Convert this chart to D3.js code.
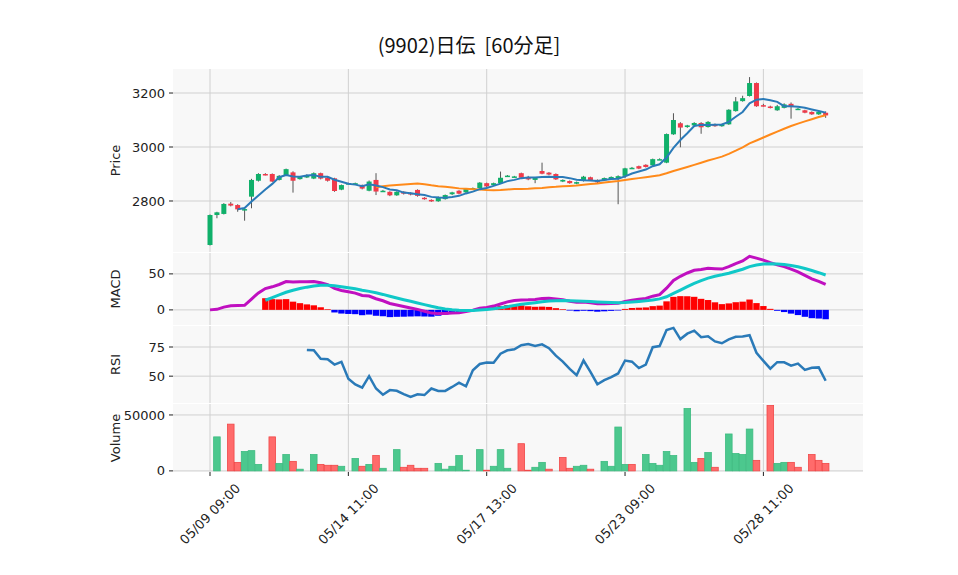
<!DOCTYPE html>
<html><head><meta charset="utf-8">
<script src="https://cdn.jsdelivr.net/npm/d3@7"></script>
<style>body{margin:0;background:#fff;font-family:"DejaVu Sans",sans-serif}</style>
</head><body><svg id="chart" width="958" height="575"></svg>
<script>
const tickLabels = ["05/09 09:00", "05/14 11:00", "05/17 13:00", "05/23 09:00", "05/28 11:00"];
const tickIndex = [0, 20, 40, 60, 80];

const opens = [2637,2748,2752,2790,2785,2765,2816,2875,2900,2900,2878,2896,2906,2881,2887,2883,2903,2886,2884,2842,2866,2866,2859,2838,2878,2838,2834,2821,2834,2830,2841,2812,2804,2799,2807,2825,2838,2832,2848,2848,2866,2859,2866,2894,2891,2903,2886,2878,2911,2905,2900,2872,2874,2864,2874,2888,2878,2877,2881,2884,2893,2923,2929,2934,2932,2955,2942,3047,3088,3074,3080,3089,3074,3084,3077,3084,3133,3170,3189,3237,3155,3150,3136,3145,3160,3142,3136,3130,3121,3127];
const closes = [2748,2758,2789,2783,2769,2770,2878,2900,2897,2872,2893,2918,2875,2890,2896,2903,2883,2875,2837,2859,2866,2866,2846,2872,2835,2838,2821,2834,2827,2824,2819,2807,2799,2815,2822,2832,2827,2844,2848,2868,2854,2866,2886,2894,2891,2886,2880,2886,2901,2898,2880,2878,2866,2870,2890,2876,2869,2885,2889,2892,2921,2923,2920,2926,2955,2955,3048,3100,3072,3080,3089,3073,3093,3077,3084,3138,3169,3181,3237,3151,3152,3145,3151,3158,3148,3142,3127,3121,3130,3117];
const highs = [2750,2760,2792,2796,2788,2772,2882,2903,2903,2902,2896,2920,2910,2892,2899,2906,2905,2889,2886,2861,2868,2868,2861,2876,2903,2841,2836,2836,2836,2832,2843,2814,2806,2817,2824,2834,2840,2846,2850,2870,2868,2868,2909,2896,2893,2905,2893,2888,2942,2907,2902,2880,2876,2872,2893,2890,2880,2887,2891,2895,2923,2926,2931,2936,2957,2958,3050,3125,3092,3082,3092,3092,3096,3087,3086,3140,3185,3190,3259,3239,3160,3153,3156,3162,3165,3145,3138,3132,3133,3132];
const lows = [2635,2736,2750,2780,2760,2727,2773,2872,2895,2870,2876,2894,2831,2879,2885,2881,2880,2872,2834,2840,2864,2864,2843,2836,2822,2836,2818,2819,2824,2821,2816,2805,2797,2797,2805,2822,2825,2830,2846,2846,2850,2857,2864,2892,2889,2883,2877,2866,2899,2895,2878,2870,2864,2862,2872,2874,2866,2875,2879,2788,2885,2920,2918,2924,2930,2953,2940,3045,2999,3071,3078,3049,3072,3075,3075,3082,3131,3168,3187,3149,3150,3143,3134,3143,3105,3140,3125,3119,3119,3108];
const volumes = [0,30400,0,41800,7600,17300,18100,5800,0,30400,6700,14600,8500,1500,0,14600,5800,5000,5000,4100,0,11100,4100,5800,13700,2300,0,19000,3200,5000,2300,2300,0,6700,1500,4100,13700,600,0,19000,600,4100,19000,2300,0,24300,600,3200,7600,1500,0,11900,2300,4100,5000,1500,0,8500,4100,39200,5800,5800,0,14600,6700,5000,17300,13700,0,55800,7600,11100,16400,3200,0,33000,15500,14600,37400,9400,0,58500,6700,7600,7600,3200,0,14600,9400,6700];
const volUp = [0,1,0,0,0,1,1,1,0,0,1,1,0,1,0,1,0,0,0,1,0,1,0,1,0,1,0,1,0,0,0,0,0,1,1,1,1,1,0,1,0,1,1,1,0,0,0,1,1,0,0,0,0,1,1,0,0,1,1,1,1,0,0,1,1,1,1,1,0,1,1,0,1,0,0,1,1,1,1,0,0,0,1,1,0,0,0,0,0,0];

const n = closes.length;
const svg = d3.select("#chart");
const L = 173, R = 863;
const x = d3.scaleLinear().domain([-5.35, 94.4]).range([L, R]);
const bw = 5;

// indicators derived from closes
function sma(p) { return closes.map((c, i) => i < p - 1 ? null : d3.mean(closes.slice(i - p + 1, i + 1))); }
function ema(arr, p) { const a = 2 / (p + 1); let out = [], e = arr[0]; arr.forEach((v, i) => { e = i ? a * v + (1 - a) * e : v; out.push(e); }); return out; }
const ma5 = sma(5), ma25 = sma(25);
const e12 = ema(closes, 12), e26 = ema(closes, 26);
const macd = e12.map((v, i) => v - e26[i]);
const signal = ema(macd, 9);
const hist = macd.map((v, i) => v - signal[i]);
const rsi = closes.map((c, i) => {
    if (i < 14) return null;
    let g = 0, l = 0;
    for (let k = i - 13; k <= i; k++) { const d = closes[k] - closes[k - 1]; if (d > 0) g += d; else l -= d; }
    return l === 0 ? 100 : 100 - 100 / (1 + g / l);
});

const panels = [
    {top: 69, bot: 252, dom: [2611, 3289], ticks: [2800, 3000, 3200], title: "Price"},
    {top: 253, bot: 325, dom: [-21, 79], ticks: [0, 50], title: "MACD"},
    {top: 326, bot: 403, dom: [27, 93], ticks: [50, 75], title: "RSI"},
    {top: 404, bot: 472, dom: [-1000, 59800], ticks: [0, 50000], title: "Volume"}
];
panels.forEach(p => {
    p.y = d3.scaleLinear().domain(p.dom).range([p.bot, p.top]);
    svg.append("rect").attr("x", L).attr("y", p.top).attr("width", R - L).attr("height", p.bot - p.top).attr("fill", "#f8f8f8");
    p.ticks.forEach(t => {
        svg.append("line").attr("x1", L).attr("x2", R).attr("y1", p.y(t)).attr("y2", p.y(t)).attr("stroke", "#d0d0d0");
        svg.append("line").attr("x1", L - 4).attr("x2", L).attr("y1", p.y(t)).attr("y2", p.y(t)).attr("stroke", "#222");
        svg.append("text").attr("x", L - 8).attr("y", p.y(t)).attr("dy", "0.35em").attr("text-anchor", "end")
            .attr("font-size", 13).attr("fill", "#222").text(t);
    });
    tickIndex.forEach(t => svg.append("line").attr("x1", x(t)).attr("x2", x(t)).attr("y1", p.top).attr("y2", p.bot).attr("stroke", "#d0d0d0"));
    svg.append("text").attr("transform", `translate(120,${(p.top + p.bot) / 2}) rotate(-90)`).attr("text-anchor", "middle")
        .attr("font-size", 13).attr("fill", "#222").text(p.title);
});
const [P, M, RS, V] = panels;

// candles
const up = "#10b06a", dn = "#f03a4a";
const c = svg.append("g");
d3.range(n).forEach(i => {
    const col = closes[i] >= opens[i] ? up : dn;
    c.append("line").attr("x1", x(i)).attr("x2", x(i)).attr("y1", P.y(highs[i])).attr("y2", P.y(lows[i])).attr("stroke", "#555");
    const y0 = P.y(Math.max(opens[i], closes[i])), y1 = P.y(Math.min(opens[i], closes[i]));
    c.append("rect").attr("x", x(i) - bw / 2).attr("width", bw).attr("y", y0).attr("height", Math.max(1.5, y1 - y0)).attr("fill", col);
});
const line = (sc, arr) => d3.line().defined(d => d != null).x((d, i) => x(i)).y(d => sc(d))(arr);
svg.append("path").attr("d", line(P.y, ma25)).attr("fill", "none").attr("stroke", "#ff8a1a").attr("stroke-width", 2);
svg.append("path").attr("d", line(P.y, ma5)).attr("fill", "none").attr("stroke", "#2a7ab8").attr("stroke-width", 2);

// macd
d3.range(8, n).forEach(i => {
    const h = hist[i];
    svg.append("rect").attr("x", x(i) - 3.2).attr("width", 6.4).attr("y", M.y(Math.max(0, h)))
        .attr("height", Math.abs(M.y(h) - M.y(0))).attr("fill", h >= 0 ? "#f00" : "#00f");
});
svg.append("path").attr("d", line(M.y, macd)).attr("fill", "none").attr("stroke", "#c010c0").attr("stroke-width", 3);
svg.append("path").attr("d", line(M.y, signal.map((v, i) => i < 8 ? null : v))).attr("fill", "none").attr("stroke", "#10c8c8").attr("stroke-width", 3);

// rsi
svg.append("path").attr("d", line(RS.y, rsi)).attr("fill", "none").attr("stroke", "#2a7ab8").attr("stroke-width", 2.5);

// volume
volumes.forEach((v, i) => {
    if (!v) return;
    svg.append("rect").attr("x", x(i) - 3.3).attr("width", 6.6).attr("y", V.y(v)).attr("height", V.y(0) - V.y(v))
        .attr("fill", volUp[i] ? "#4cc88e" : "#ff6b6b").attr("stroke", volUp[i] ? "#3dbb80" : "#f04848").attr("stroke-width", 0.8);
});

// x axis
tickIndex.forEach((t, k) => {
    svg.append("line").attr("x1", x(t)).attr("x2", x(t)).attr("y1", 472).attr("y2", 476).attr("stroke", "#222");
    svg.append("text").attr("transform", `translate(${x(t)},${514}) rotate(-45)`).attr("text-anchor", "middle")
        .attr("dy", "0.35em").attr("font-size", 13).attr("fill", "#222").text(tickLabels[k]);
});
svg.append("text").attr("x", 469).attr("y", 53).attr("text-anchor", "middle").attr("font-size", 20)
    .style("white-space", "pre")
    .attr("font-family", "'Noto Sans CJK JP','DejaVu Sans'").attr("fill", "#111").text("(9902)日伝  [60分足]");
</script></body></html>
